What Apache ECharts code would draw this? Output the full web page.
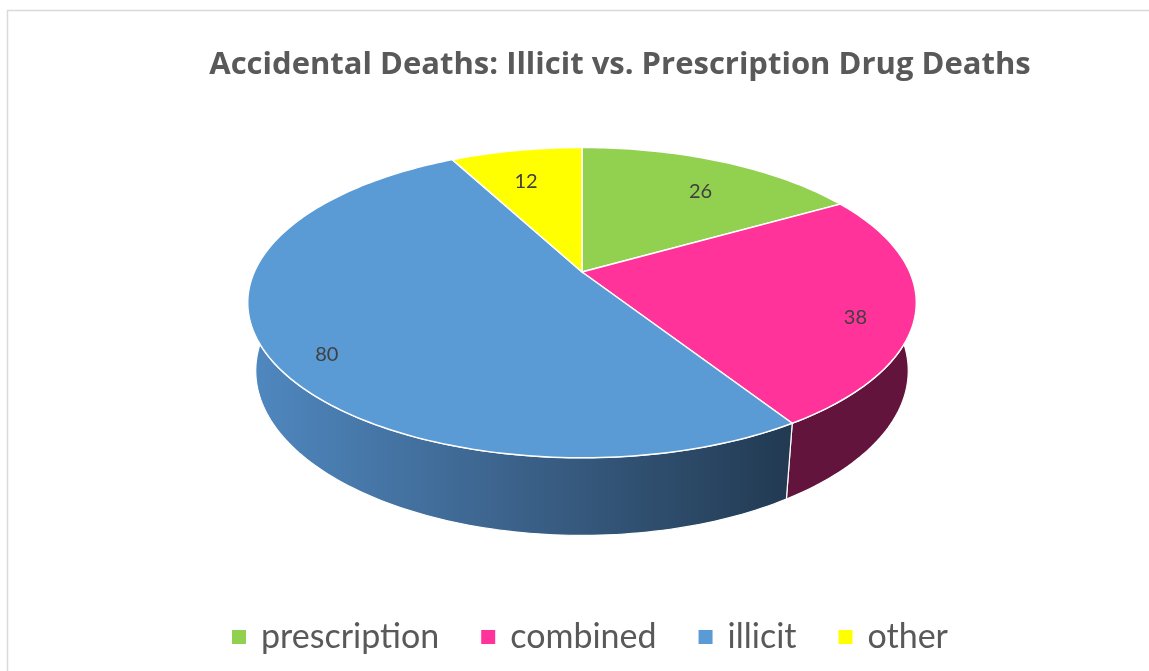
<!DOCTYPE html>
<html>
<head>
<meta charset="utf-8">
<script src="https://cdn.jsdelivr.net/npm/echarts@6/dist/echarts.min.js"></script>
<style>
  html, body { margin: 0; padding: 0; background: #fff; }
  #pie3d { width: 1149px; height: 671px; }
</style>
</head>
<body>
<div id="pie3d"></div>
<script>
// data
var categories = ['prescription', 'combined', 'illicit', 'other'];
var deaths = [26, 38, 80, 12];
var topColors = ['#92d050', '#ff3399', '#5b9bd5', '#ffff00'];

var total = deaths.reduce(function (a, b) { return a + b; }, 0);
var startAngles = [];
(function () {
  var acc = 0;
  deaths.forEach(function (v) { startAngles.push(acc / total * Math.PI * 2); acc += v; });
})();

// simple perspective view of a tilted disc
var CX = 582, CY = 272, FOCAL = 1478, DIST = 4.51;
var SIN_T = 0.455, COS_T = 0.89, THICK = 0.235;

function project(theta, r, z) {
  var u = r * Math.sin(theta);       // right
  var v = -r * Math.cos(theta);      // towards viewer
  var Y = v * SIN_T - z * COS_T;
  var d = DIST - v * COS_T - z * SIN_T;
  return [CX + FOCAL * u / d, CY + FOCAL * Y / d];
}

function rim(a0, a1, z) {
  var pts = [];
  var n = Math.max(8, Math.ceil((a1 - a0) / 0.02));
  for (var i = 0; i <= n; i++) pts.push(project(a0 + (a1 - a0) * i / n, 1, z));
  return pts;
}

var wallColors = [
  '#4c7a2c',
  '#63143c',
  new echarts.graphic.LinearGradient(250, 0, 790, 0, [
    { offset: 0, color: '#4f88c0' },
    { offset: 0.5, color: '#3b6189' },
    { offset: 1, color: '#223a52' }
  ], true),
  '#8a8a00'
];

function makeRender(idx) {
  return function (params, api) {
    var a0 = startAngles[idx];
    var a1 = a0 + api.value(0) / total * Math.PI * 2;
    var top = rim(a0, a1, 0);
    var bottom = rim(a0, a1, -THICK).reverse();
    var mid = (a0 + a1) / 2;
    var lp = project(mid, 0.83, -0.05);
    return {
      type: 'group',
      children: [
        {
          type: 'polygon',
          z2: 1,
          shape: { points: top.concat(bottom) },
          style: { fill: wallColors[idx], stroke: '#fff', lineWidth: 1.2 }
        },
        {
          type: 'polygon',
          z2: 10,
          shape: { points: [project(0, 0, 0)].concat(top) },
          style: { fill: topColors[idx], stroke: '#fff', lineWidth: 1.5 }
        },
        {
          type: 'text',
          z2: 20,
          x: lp[0], y: lp[1],
          style: {
            text: String(api.value(0)),
            fill: '#404040',
            fontSize: 20,
            fontFamily: 'Lato, "Open Sans", sans-serif',
            align: 'center',
            verticalAlign: 'middle'
          }
        }
      ]
    };
  };
}

var chart = echarts.init(document.getElementById('pie3d'));
chart.setOption({
  animation: false,
  title: {
    text: 'Accidental Deaths: Illicit vs. Prescription Drug Deaths',
    left: 615,
    textAlign: 'center',
    top: 45,
    textStyle: {
      color: '#595959',
      fontSize: 31,
      fontWeight: 'bold',
      fontFamily: '"Open Sans", Lato, sans-serif'
    }
  },
  legend: {
    bottom: 12,
    left: 227,
    icon: 'rect',
    itemWidth: 14,
    itemHeight: 14,
    itemGap: 42,
    textStyle: {
      color: '#595959',
      fontSize: 34,
      fontFamily: 'Lato, "Open Sans", sans-serif',
      padding: [0, 0, 0, 10]
    },
    data: categories
  },
  graphic: [{
    type: 'rect',
    shape: { x: 7.5, y: 10.5, width: 1200, height: 800 },
    style: { fill: 'none', stroke: '#d9d9d9', lineWidth: 1.5 },
    silent: true
  }],
  series: categories.map(function (name, i) {
    return {
      type: 'custom',
      name: name,
      coordinateSystem: 'none',
      itemStyle: { color: topColors[i] },
      data: [deaths[i]],
      renderItem: makeRender(i)
    };
  })
});
</script>
</body>
</html>
